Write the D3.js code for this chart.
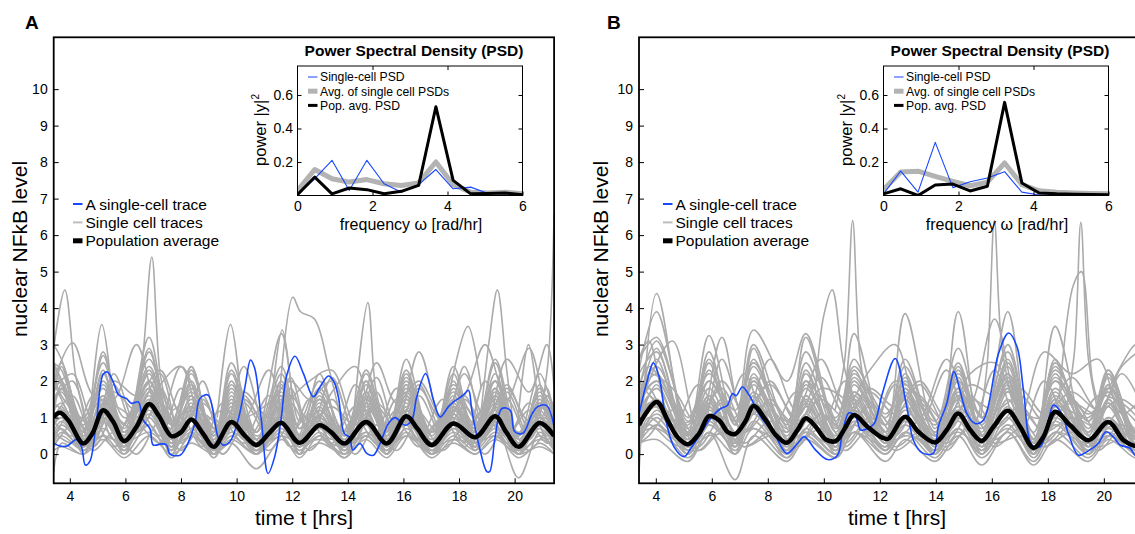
<!DOCTYPE html>
<html>
<head>
<meta charset="utf-8">
<script src="https://cdn.jsdelivr.net/npm/d3@7"></script>
<style>
  body { margin: 0; background: #fff; }
  svg { display: block; font-family: "Liberation Sans", Arial, sans-serif; }
</style>
</head>
<body>
<div id="chart"></div>
<script>
// ---------- data ----------
const yTicks = [0, 1, 2, 3, 4, 5, 6, 7, 8, 9, 10];
const tTicks = [4, 6, 8, 10, 12, 14, 16, 18, 20];
const psdXTicks = [0, 2, 4, 6];
const psdYTicks = [0.2, 0.4, 0.6];

// PSD insets (frequency in rad/hr)
const psdFreq = [0, 0.46, 0.92, 1.38, 1.85, 2.31, 2.77, 3.23, 3.69, 4.15, 4.62, 5.08, 5.54, 6.0];
const psdSingleA = [0.005, 0.1, 0.21, 0.03, 0.21, 0.07, 0.02, 0.065, 0.155, 0.04, 0.05, 0.012, 0.01, 0.005];
const psdAvgA    = [0.03, 0.155, 0.1, 0.08, 0.095, 0.07, 0.06, 0.075, 0.2, 0.065, 0.02, 0.015, 0.02, 0.01];
const psdPopA    = [0.005, 0.11, 0.01, 0.045, 0.035, 0.01, 0.025, 0.06, 0.53, 0.09, 0.01, 0.012, 0.015, 0.005];
const psdSingleB = [0.01, 0.146, 0.02, 0.317, 0.047, 0.082, 0.104, 0.142, 0.02, 0.003, 0.003, 0.002, 0.002, 0.002];
const psdAvgB    = [0.035, 0.14, 0.145, 0.114, 0.084, 0.058, 0.08, 0.194, 0.065, 0.028, 0.02, 0.015, 0.012, 0.01];
const psdPopB    = [0.01, 0.04, 0.0, 0.063, 0.068, 0.027, 0.055, 0.556, 0.075, 0.015, 0.01, 0.008, 0.006, 0.005];

// population average [t, level]
const popA = [[3.42,1.02],[3.64,1.13],[3.94,0.93],[4.48,0.29],[4.8,0.55],[5.2,1.2],[5.55,0.9],[5.95,0.36],[6.4,0.75],
  [6.85,1.37],[7.2,1.05],[7.66,0.49],[8.0,0.6],[8.37,0.95],[8.8,0.55],[9.18,0.2],[9.81,0.88],[10.3,0.5],[10.71,0.25],
  [11.2,0.6],[11.61,0.86],[12.26,0.31],[12.98,0.79],[13.4,0.6],[13.88,0.29],[14.66,0.88],[15.4,0.29],[16.1,1.04],
  [16.5,0.7],[17.02,0.25],[17.8,0.84],[18.58,0.46],[19.3,1.04],[19.7,0.6],[20.14,0.2],[20.9,0.85],[21.42,0.5]];
const popB = [[3.4,0.8],[4.03,1.43],[4.42,0.93],[4.77,0.47],[5.15,0.27],[5.55,0.57],[5.9,1.04],[6.26,0.93],[6.56,0.61],
  [6.83,0.55],[7.2,0.9],[7.49,1.32],[7.93,0.93],[8.29,0.52],[8.68,0.31],[9.06,0.66],[9.36,0.98],[9.71,0.75],[10.07,0.4],
  [10.43,0.36],[10.75,0.7],[11.08,1.07],[11.56,0.75],[12.09,0.45],[12.3,0.42],[12.9,1.02],[13.38,0.61],[13.97,0.32],
  [14.39,0.66],[14.8,1.11],[15.23,0.66],[15.64,0.36],[16.06,0.75],[16.57,1.19],[17.01,0.75],[17.49,0.17],[17.84,0.47],
  [18.26,1.16],[18.8,0.79],[19.45,0.38],[20.16,0.88],[20.7,0.38],[21.12,0.22],[21.42,0.2]];

// highlighted single cell [t, level]
const blueA = [[3.42,0.3],[3.64,0.22],[3.9,0.22],[4.24,0.4],[4.42,0.2],[4.56,-0.3],[4.72,-0.2],[4.96,0.93],[5.2,2.19],
  [5.35,2.25],[5.56,1.98],[5.76,1.62],[6.04,1.52],[6.22,1.39],[6.46,1.43],[6.64,0.93],[6.88,0.7],[7.0,0.25],[7.3,0.28],
  [7.48,0.25],[7.6,0.0],[7.96,-0.03],[8.15,0.15],[8.5,0.84],[8.68,1.52],[8.97,1.62],[9.33,0.47],[9.51,0.25],[9.75,0.33],
  [10.05,0.93],[10.3,1.84],[10.5,2.58],[10.65,2.35],[10.89,0.93],[11.13,-0.53],[11.37,-0.07],[11.61,1.02],[11.79,2.12],
  [12.1,2.68],[12.4,2.21],[12.76,1.57],[13.0,1.84],[13.3,2.14],[13.49,2.0],[13.66,1.57],[13.87,0.57],[14.07,0.45],
  [14.18,0.11],[14.44,0.29],[14.68,0.02],[14.92,-0.03],[15.16,0.29],[15.46,0.84],[15.7,1.0],[16.06,0.79],[16.3,0.93],
  [16.48,1.57],[16.8,2.21],[17.08,1.48],[17.32,1.02],[17.62,1.3],[17.8,1.43],[17.98,1.52],[18.16,1.62],[18.34,1.75],
  [18.46,1.2],[18.73,0.2],[19.0,-0.48],[19.1,-0.48],[19.3,0.47],[19.54,1.25],[19.84,1.2],[20.0,0.62],[20.3,0.57],
  [20.63,1.11],[20.83,1.3],[21.15,1.33],[21.42,0.75]];
const blueB = [[3.4,1.1],[3.7,2.03],[3.91,2.5],[4.12,2.12],[4.36,0.93],[4.65,0.2],[5.01,-0.07],[5.25,0.16],[5.61,0.57],
  [5.96,0.98],[6.32,1.25],[6.55,1.33],[6.74,1.66],[6.87,1.6],[7.09,1.84],[7.33,1.62],[7.75,1.02],[8.22,0.57],[8.68,0.02],
  [9.06,0.29],[9.3,0.48],[9.71,0.11],[10.13,-0.15],[10.49,-0.03],[10.66,0.57],[10.9,1.13],[11.14,1.02],[11.32,0.66],
  [11.56,0.7],[11.8,0.84],[12.09,1.66],[12.55,2.62],[12.96,1.3],[13.2,0.38],[13.5,0.04],[13.91,0.02],[14.09,0.75],
  [14.39,1.39],[14.65,2.26],[14.86,1.75],[15.11,1.11],[15.4,0.84],[15.7,0.93],[16.24,2.76],[16.6,3.32],[16.9,2.94],
  [17.13,1.75],[17.43,0.25],[17.73,0.2],[18.02,0.93],[18.2,1.34],[18.5,1.1],[18.73,0.57],[19.09,-0.03],[19.39,0.06],
  [19.8,0.29],[20.08,0.61],[20.34,0.47],[20.58,0.25],[20.94,0.16],[21.12,-0.03],[21.42,-0.05]];

// single cell traces, panel A: values at the time points of gridA / gridA2
const gridA  = [3.42, 3.7, 4.5, 5.2, 5.95, 6.85, 7.65, 8.37, 9.18, 9.81, 10.71, 11.61, 12.26, 12.98, 13.88, 14.66, 15.4, 16.1, 17.02, 17.8, 18.58, 19.3, 20.14, 20.9, 21.42];
const gridA2 = [3.42, 4.1, 4.85, 5.58, 6.4, 7.25, 8.0, 8.78, 9.5, 10.26, 11.16, 11.94, 12.62, 13.43, 14.27, 15.03, 15.75, 16.56, 17.41, 18.19, 18.94, 19.72, 20.52, 21.16, 21.42];
const cellsA = [
  [3.0, 2.6, 0.9, 1.8, 0.5, 2.2, 0.6, 1.5, 0.3, 1.2, 0.2, 1.5, 0.4, 1.0, 0.2, 1.6, 0.4, 1.7, 0.3, 1.2, 0.5, 1.4, 0.2, 1.0, 0.6],
  [2.4, 2.0, 0.4, 2.7, 0.6, 1.8, 0.3, 1.2, 0.1, 0.9, 0.1, 1.1, 0.2, 0.8, 0.1, 0.9, 0.2, 1.2, 0.1, 0.7, 0.3, 1.0, 0.1, 0.8, 0.3],
  [1.5, 1.8, 0.2, 1.0, 0.2, 2.8, 0.8, 2.4, 0.2, 1.5, 0.3, 1.3, 0.2, 1.2, 0.3, 2.0, 0.5, 2.3, 0.2, 1.4, 0.4, 1.8, 0.3, 1.3, 0.8],
  [2.5, 2.3, 0.6, 2.8, 0.3, 3.2, 0.5, 2.0, 0.1, 2.3, 0.4, 2.2, 0.5, 1.5, 0.4, 2.0, 0.3, 2.6, 0.3, 1.8, 0.6, 2.5, 0.2, 1.7, 0.5],
  [0.8, 1.0, 0.1, 0.7, 0.1, 1.1, 0.2, 0.6, 0.0, 0.5, 0.0, 0.7, 0.1, 0.5, 0.0, 0.6, 0.1, 0.7, 0.0, 0.5, 0.1, 0.6, 0.0, 0.5, 0.1],
  [-0.5, 0.3, 0.0, 1.2, 0.1, 1.4, 0.0, 0.9, -0.1, 0.8, 0.0, 0.9, 0.1, 0.6, -0.1, 0.8, 0.0, 0.9, 0.0, 0.7, 0.2, 0.8, -0.65, 0.6, 0.1],
  [1.9, 2.5, 0.7, 2.0, 0.8, 2.6, 1.2, 1.6, 0.5, 2.5, 0.6, 3.3, 0.9, 2.0, 0.5, 2.2, 0.6, 1.9, 0.5, 1.6, 0.7, 2.6, 0.5, 2.2, 1.0],
  [1.2, 1.4, 0.3, 1.6, 0.4, 2.0, 0.4, 1.1, 0.2, 2.0, 0.3, 1.8, 0.5, 0.9, 0.3, 1.5, 0.5, 1.5, 0.2, 1.1, 0.4, 1.2, 0.2, 1.5, 0.4],
  [0.3, 0.6, 0.2, 0.9, 0.2, 1.0, 0.1, 0.7, 0.1, 0.6, 0.2, 0.5, 0.3, 0.4, 0.2, 0.6, 0.2, 0.5, 0.2, 0.4, 0.3, 0.5, 0.1, 0.4, 0.2],
  [2.2, 1.6, 1.0, 2.5, 1.0, 1.3, 0.7, 1.9, 0.6, 1.2, 0.4, 1.7, 0.5, 1.0, 0.4, 1.3, 0.5, 2.1, 0.6, 1.9, 1.0, 2.0, 0.4, 1.3, 1.2],
  [0.5, 0.8, 0.3, 0.5, 0.3, 0.6, 0.2, 0.5, 0.2, 0.8, 0.1, 0.6, 0.2, 0.7, 0.2, 0.5, 0.1, 0.9, 0.1, 0.6, 0.2, 0.7, 0.1, 0.9, 0.3],
  [1.7, 2.0, 0.5, 1.4, 0.2, 2.9, 0.3, 1.4, 0.1, 1.6, 0.0, 1.4, 0.3, 1.7, 0.1, 1.2, 0.0, 1.3, 0.0, 2.0, 0.2, 1.8, 0.0, 1.1, 0.2],
  [0.1, 0.2, 0.0, 0.4, -0.1, 0.5, 0.0, 0.3, 0.0, 0.3, -0.4, 0.4, 0.0, 0.3, 0.0, 0.4, -0.1, 0.5, 0.0, 0.3, 0.0, 0.4, 0.0, 0.2, 0.0],
  [1.0, 1.1, 0.4, 2.2, 0.6, 1.6, 0.5, 1.3, 0.3, 1.0, 0.3, 2.0, 0.3, 1.4, 0.2, 1.9, 0.3, 1.6, 0.3, 2.4, 0.5, 1.5, 0.3, 1.2, 0.5],
  [0.6, 0.9, 0.2, 1.1, 0.3, 1.5, 0.3, 1.0, 0.2, 1.4, 0.1, 1.0, 0.2, 1.1, 0.1, 1.0, 0.2, 1.4, 0.1, 0.9, 0.2, 1.3, 0.1, 0.7, 0.3],
  [2.0, 1.5, 0.5, 1.2, 0.5, 2.3, 0.6, 1.8, 0.4, 1.8, 0.5, 1.0, 0.4, 1.5, 0.5, 1.4, 0.4, 1.2, 0.4, 1.5, 0.5, 2.2, 0.3, 1.8, 1.0],
  [1.4, 1.7, 0.6, 1.9, 0.7, 2.4, 0.9, 2.2, 0.5, 1.9, 0.6, 2.4, 0.7, 1.8, 0.6, 2.3, 0.7, 2.0, 0.6, 1.7, 0.8, 2.0, 0.5, 1.6, 0.7],
  [0.9, 1.3, 0.0, 1.3, 0.0, 1.7, 0.1, 1.6, 0.0, 1.3, 0.0, 1.6, 0.0, 1.3, 0.0, 1.2, 0.0, 1.9, 0.0, 1.3, 0.1, 1.6, 0.0, 1.4, 0.2],
  [1.6, 2.4, 0.3, 2.3, 0.2, 2.0, 0.2, 2.3, 0.3, 2.2, 0.2, 1.6, 0.3, 2.2, 0.2, 1.7, 0.2, 2.2, 0.2, 2.2, 0.3, 2.0, 0.2, 1.9, 0.4],
  [0.2, 0.5, 0.1, 0.5, 0.0, 0.8, -0.1, 0.5, 0.0, 0.4, 0.0, 0.5, -0.1, 0.5, -0.1, 0.5, 0.0, 0.6, -0.1, 0.4, 0.0, 0.5, -0.1, 0.3, 0.0],
  [1.1, 1.9, 0.4, 1.5, 0.4, 1.8, 0.5, 2.4, 0.3, 1.7, 0.3, 1.3, 0.4, 1.6, 0.2, 1.7, 0.3, 1.8, 0.3, 1.3, 0.4, 1.7, 0.3, 1.4, 0.6],
  [0.7, 1.2, 0.2, 1.3, 0.1, 1.2, 0.2, 1.2, 0.1, 1.1, 0.1, 1.2, 0.2, 0.9, 0.1, 1.1, 0.1, 1.1, 0.1, 1.0, 0.2, 0.9, 0.1, 1.0, 0.2],
  [2.3, 1.9, 0.8, 1.6, 0.6, 2.0, 0.8, 1.7, 0.7, 1.4, 0.6, 1.9, 0.7, 1.2, 0.6, 1.5, 0.8, 1.5, 0.6, 1.3, 0.7, 1.6, 0.6, 1.0, 0.9],
  [0.4, 0.7, 0.1, 1.0, 0.2, 1.3, 0.1, 0.9, 0.0, 1.1, 0.1, 0.8, 0.0, 0.9, 0.1, 1.1, 0.0, 1.2, 0.0, 1.1, 0.1, 1.1, 0.0, 0.9, 0.1]
];
const cellsA2 = [
  [2.0, 3.05, 1.6, 1.5, 3.0, 1.0, 2.4, 1.2, 0.5, 1.6, 0.6, 1.5, 2.0, 2.3, 0.8, 2.5, 1.4, 2.0, 1.0, 1.6, 3.0, 1.5, 2.9, 1.2, 1.0],
  [1.4, 1.0, 0.6, 2.2, 0.8, 1.9, 2.4, 0.9, 1.2, 1.0, 1.4, 2.0, 1.5, 2.0, 0.6, 1.4, 0.9, 2.8, 0.8, 2.2, 1.0, 1.8, 0.9, 1.6, 1.3],
  [0.4, 1.2, 0.2, 1.0, 0.6, 1.4, 0.3, 1.1, 0.7, 0.9, 2.3, 0.6, 1.1, 0.4, 1.3, 0.5, 1.2, 0.4, 1.0, 0.6, 1.2, 0.5, 1.4, 0.4, 0.6],
  [0.9, 0.5, 1.6, 0.4, 1.3, 0.5, 1.8, 0.3, 1.4, 0.4, 1.6, 0.5, 1.5, 0.3, 1.9, 0.4, 1.5, 0.4, 1.5, 0.3, 2.0, 0.5, 1.2, 0.5, 0.6],
  [2.5, 1.4, 0.3, 1.7, 1.2, 2.2, 0.5, 1.5, 0.5, 2.4, 0.4, 2.1, 0.6, 1.7, 2.4, 0.6, 1.8, 1.2, 0.5, 2.4, 0.6, 2.6, 1.7, 3.0, 1.8],
  [0.2, 0.8, 0.1, 0.6, 0.0, 0.9, 0.1, 0.8, 0.0, 0.7, 0.1, 0.8, 0.1, 0.7, 0.0, 0.8, 0.1, 0.9, 0.1, 0.7, 0.0, 0.8, 0.1, 0.6, 0.2],
  [1.8, 2.2, 0.9, 2.0, 1.6, 2.3, 1.1, 1.4, 0.8, 1.7, 1.0, 1.6, 0.9, 1.3, 0.8, 2.1, 0.7, 1.8, 0.9, 1.5, 0.8, 1.9, 0.7, 1.6, 1.2],
  [1.0, 1.6, 0.4, 1.3, 1.0, 1.8, 0.6, 1.6, 0.4, 1.4, 0.5, 1.8, 0.5, 1.5, 0.4, 1.7, 0.4, 1.6, 0.5, 1.3, 0.5, 1.5, 0.4, 1.2, 0.6],
  [0.6, 0.3, 0.9, 0.2, 0.8, 0.3, 1.0, 0.2, 0.9, 0.3, 1.1, 0.2, 0.9, 0.2, 1.0, 0.3, 0.9, 0.2, 1.0, 0.2, 1.1, 0.3, 0.8, 0.3, 0.4],
  [1.5, 2.0, 0.5, 1.9, 0.6, 1.4, 0.6, 2.0, 0.5, 1.5, 0.7, 1.4, 0.6, 2.1, 0.6, 1.3, 0.7, 1.9, 0.6, 1.6, 0.5, 1.7, 0.5, 1.8, 0.9]
];
// tall excursions of individual cells, panel A [t, level]
const spikesA = [
  [[3.42,2.9],[3.82,4.5],[4.2,2.2],[4.6,0.8]],
  [[4.7,0.8],[5.15,3.55],[5.6,1.0]],
  [[6.2,0.8],[6.6,2.5],[6.95,5.4],[7.25,2.2],[7.7,0.7]],
  [[9.3,1.0],[9.78,3.55],[10.2,1.2]],
  [[11.2,1.0],[11.64,3.4],[12.0,1.5]],
  [[11.5,1.2],[12.02,4.3],[12.3,3.9],[12.8,3.7],[13.3,2.4],[13.8,0.8]],
  [[14.2,1.0],[14.72,4.15],[15.0,1.8],[15.4,0.6]],
  [[17.6,1.5],[18.32,3.5],[18.8,1.8]],
  [[18.8,1.2],[19.1,3.2],[19.38,4.5],[19.7,2.4],[20.0,0.5]],
  [[20.1,0.8],[20.5,3.0],[20.9,1.0]],
  [[20.9,1.0],[21.2,2.5],[21.42,6.6]]
];

// single cell traces, panel B
const gridB  = [3.4, 4.03, 5.15, 5.9, 6.83, 7.49, 8.68, 9.36, 10.43, 11.08, 12.2, 12.9, 13.97, 14.8, 15.64, 16.57, 17.49, 18.26, 19.45, 20.16, 21.12, 21.42];
const gridB2 = [3.4, 3.75, 4.6, 5.52, 6.36, 7.16, 8.08, 9.02, 9.9, 10.76, 11.64, 12.55, 13.43, 14.38, 15.22, 16.1, 17.03, 17.87, 18.85, 19.8, 20.64, 21.42];
const cellsB = [
  [-0.5, 4.4, 0.3, 2.5, 0.2, 2.2, 0.1, 2.0, 0.2, 1.6, 0.3, 1.8, 0.2, 2.3, 0.4, 2.4, 0.1, 1.7, 0.3, 1.5, 0.2, 0.4],
  [2.3, 3.9, 0.6, 3.25, 0.8, 3.4, 2.0, 3.3, 0.8, 2.6, 0.6, 3.85, 0.7, 2.5, 0.6, 3.0, 0.3, 2.4, 0.7, 2.3, 0.5, 0.8],
  [1.2, 2.6, 0.2, 1.5, 0.3, 2.9, 0.2, 1.4, 0.1, 1.7, 0.4, 1.5, 0.2, 1.8, 0.3, 2.0, 0.1, 3.5, 0.2, 1.9, 0.3, 0.6],
  [0.8, 1.9, 0.1, 1.2, 0.5, 1.6, 0.0, 1.0, 0.2, 1.2, 0.1, 1.0, 0.0, 3.9, 0.2, 3.9, 0.0, 1.4, 0.1, 1.4, 0.0, 0.2],
  [0.4, 1.0, 0.0, 0.8, 0.2, 1.2, -0.1, 0.7, 0.0, 0.9, 0.1, 0.8, 0.0, 0.9, 0.0, 1.0, -0.1, 0.8, 0.0, 0.7, 0.1, 0.1],
  [1.6, 2.2, 0.5, 2.0, 0.9, 2.4, 0.6, 3.2, 0.7, 1.7, 0.8, 2.4, 0.6, 2.0, 0.8, 2.5, 0.4, 2.1, 0.9, 2.3, 0.6, 0.9],
  [0.2, 1.2, 0.1, 1.0, 0.1, 0.9, 0.0, 0.6, 0.0, 0.8, 0.0, 0.6, 0.1, 0.7, 0.0, 0.8, 0.0, 0.9, 0.0, 0.6, 0.0, 0.1],
  [1.0, 1.5, 0.4, 1.6, 0.4, 1.9, 0.3, 1.3, 0.3, 1.4, 0.3, 1.2, 0.4, 1.5, 0.3, 2.0, 0.3, 1.8, 0.4, 1.0, 0.3, 0.4],
  [2.0, 1.4, 0.8, 2.8, 0.5, 1.4, 0.6, 1.8, 0.4, 1.9, 0.6, 1.6, 0.5, 1.3, 0.5, 1.8, 0.2, 1.3, 1.0, 1.7, 0.4, 0.6],
  [0.6, 0.7, 0.2, 0.5, 0.6, 0.7, 0.3, 0.6, 0.2, 0.6, 0.2, 0.5, 0.3, 0.6, 0.2, 0.7, 0.1, 0.6, 0.3, 0.5, 0.2, 0.3],
  [1.3, 2.9, 0.3, 1.3, 0.2, 1.1, 0.1, 2.3, 0.3, 1.1, 0.2, 2.2, 0.3, 1.2, 0.1, 1.5, 0.0, 2.6, 0.2, 2.2, 0.2, 0.3],
  [0.3, 0.4, -0.2, 0.6, -0.7, 0.5, -0.2, 0.4, -0.1, 0.6, -0.2, 0.4, -0.2, 0.5, -0.3, 0.6, -0.3, 0.4, -0.2, 0.4, -0.1, 0.0],
  [1.8, 3.1, 1.0, 2.2, 1.2, 2.5, 0.9, 2.0, 1.0, 2.4, 1.1, 1.9, 0.8, 2.2, 1.0, 2.8, 0.4, 2.0, 1.1, 1.8, 3.0, 3.0],
  [0.9, 1.3, 0.2, 1.1, 0.3, 1.4, 0.2, 0.9, 0.1, 1.0, 0.2, 1.3, 0.1, 1.2, 0.2, 1.3, 0.1, 1.1, 0.2, 1.0, 0.1, 0.3],
  [1.5, 2.0, 0.6, 1.6, 0.3, 2.0, 0.3, 1.6, 0.2, 3.3, 0.5, 1.7, 0.3, 1.6, 0.3, 1.8, 0.2, 1.5, 0.3, 2.2, 0.3, 0.5],
  [1.4, 2.0, 0.5, 1.8, 0.6, 2.1, 0.5, 1.9, 0.5, 2.0, 0.6, 1.8, 0.5, 2.1, 0.5, 2.2, 0.4, 2.0, 0.6, 1.7, 0.4, 0.7],
  [0.7, 1.5, 0.0, 1.3, 0.0, 1.6, 0.0, 1.5, 0.0, 1.3, 0.1, 1.5, 0.0, 1.6, 0.0, 1.7, 0.0, 1.5, 0.0, 1.3, 0.0, 0.1],
  [2.2, 2.8, 0.4, 2.3, 0.5, 2.6, 0.4, 2.2, 0.4, 2.3, 0.4, 2.1, 0.4, 2.4, 0.5, 2.6, 0.2, 2.2, 0.5, 2.1, 0.4, 0.6],
  [0.3, 0.8, -0.1, 0.6, 0.0, 0.7, -0.1, 0.5, -0.1, 0.6, 0.0, 0.6, -0.1, 0.7, -0.1, 0.6, -0.2, 0.6, -0.1, 0.5, 0.0, 0.0],
  [1.1, 1.8, 0.3, 1.4, 0.4, 1.7, 0.3, 1.6, 0.3, 1.5, 0.3, 1.6, 0.3, 1.7, 0.4, 1.9, 0.2, 1.6, 0.4, 1.4, 0.3, 0.5],
  [1.7, 2.4, 0.7, 2.6, 0.8, 2.0, 0.7, 2.5, 0.6, 2.1, 0.8, 2.6, 0.6, 1.8, 0.7, 2.1, 0.4, 2.5, 0.6, 1.9, 0.6, 1.0],
  [0.5, 1.1, 0.2, 0.9, 0.2, 1.1, 0.1, 1.1, 0.1, 1.2, 0.1, 0.9, 0.1, 1.0, 0.1, 1.2, 0.0, 1.0, 0.1, 0.9, 0.1, 0.2],
  [2.6, 3.2, 0.9, 2.0, 1.0, 3.0, 0.8, 2.8, 0.9, 2.2, 1.0, 2.0, 0.9, 2.9, 1.0, 2.2, 0.6, 2.3, 0.9, 1.8, 0.7, 1.2]
];
const cellsB2 = [
  [1.0, 2.0, 3.1, 0.6, 3.2, 1.0, 1.4, 0.8, 1.8, 1.5, 0.6, 2.0, 1.6, 0.9, 2.2, 2.5, 1.2, 1.0, 2.1, 1.2, 2.4, 2.9],
  [0.5, 1.4, 0.9, 0.5, 1.5, 0.6, 1.2, 0.5, 1.1, 0.6, 1.3, 0.5, 1.4, 0.6, 1.3, 0.7, 1.2, 0.6, 1.0, 0.7, 0.8, 0.5],
  [1.8, 2.4, 1.5, 0.4, 2.6, 1.0, 2.6, 1.2, 2.6, 1.3, 2.3, 3.0, 1.0, 2.6, 1.4, 3.7, 1.1, 2.8, 2.2, 2.6, 1.1, 1.6],
  [0.1, 0.8, 0.3, 0.1, 0.7, 0.2, 0.6, 0.2, 0.9, 0.1, 0.7, 0.2, 0.6, 0.1, 0.8, 0.2, 0.7, 0.2, 0.8, 0.1, 0.7, 0.2],
  [1.2, 1.8, 0.7, 1.9, 1.0, 2.2, 0.6, 1.7, 0.8, 2.0, 0.5, 1.9, 0.8, 2.3, 0.6, 2.3, 0.6, 2.0, 0.7, 1.6, 1.4, 0.8],
  [2.6, 3.1, 0.9, 1.0, 1.8, 0.8, 2.0, 0.9, 1.5, 1.0, 1.7, 1.1, 1.9, 0.8, 1.5, 1.2, 1.6, 0.9, 1.4, 1.1, 2.2, 1.2],
  [0.3, 0.5, 1.2, 0.1, 0.6, 0.2, 0.5, 0.3, 0.7, 0.2, 0.9, 0.1, 0.5, 0.2, 0.7, 0.3, 0.5, 0.2, 0.6, 0.2, 0.4, 0.1],
  [0.9, 1.6, 0.8, 0.5, 1.4, 0.6, 1.5, 0.6, 1.6, 0.5, 1.4, 0.7, 1.5, 0.6, 1.6, 0.8, 1.3, 0.6, 1.5, 0.6, 1.2, 0.6],
  [1.5, 2.2, 1.8, 0.8, 2.0, 1.2, 1.9, 1.0, 2.1, 1.1, 1.8, 1.3, 2.0, 1.0, 1.9, 1.6, 1.8, 1.1, 1.7, 1.2, 1.5, 1.0],
  [0.4, 1.0, 0.5, 0.2, 1.0, 0.3, 0.9, 0.2, 1.1, 0.3, 1.0, 0.4, 0.9, 0.3, 1.1, 0.4, 0.9, 0.3, 1.0, 0.3, 0.8, 0.3]
];
const spikesB = [
  [[9.7,1.8],[10.0,3.8],[10.3,4.5],[10.7,2.5],[11.2,1.0]],
  [[10.4,1.2],[10.75,2.6],[11.03,6.4],[11.3,2.6],[11.7,1.0]],
  [[15.6,1.0],[15.85,2.6],[16.09,6.4],[16.35,3.0],[16.8,1.2]],
  [[18.4,1.5],[18.9,4.6],[19.2,5.0],[19.6,2.0],[20.0,0.9]],
  [[18.6,1.0],[18.95,2.8],[19.18,6.35],[19.45,2.6],[19.9,0.8]]
];

// ---------- drawing ----------
const W = 1135, H = 534;
const yDomain = [-0.8, 11.42];
const blue = "#1747ff", gray = "#ababab";

const svg = d3.select("#chart").append("svg").attr("width", W).attr("height", H);

function styleAxis(a, size) {
  a.attr("font-family", null).attr("font-size", size);
  a.select(".domain").remove();
  a.selectAll("line").attr("stroke", "#000");
  a.selectAll("text").attr("fill", "#000");
}

function drawPanel(p) {
  const x = d3.scaleLinear().domain(p.tDomain).range([p.left, p.right]);
  const y = d3.scaleLinear().domain(yDomain).range([483.3, 37.3]);
  const g = svg.append("g");

  g.append("clipPath").attr("id", "clip" + p.name).append("rect")
    .attr("x", p.left).attr("y", 37.3).attr("width", p.right - p.left).attr("height", 446);

  const line = d3.line().x(d => x(d[0])).y(d => y(d[1])).curve(d3.curveCatmullRom.alpha(0.5));
  const traces = [
    ...p.cells.map(v => p.grid.map((t, i) => [t, v[i]])),
    ...p.cells2.map(v => p.grid2.map((t, i) => [t, v[i]])),
    ...p.spikes
  ];
  const plot = g.append("g").attr("clip-path", `url(#clip${p.name})`);
  plot.selectAll("path.cell").data(traces).join("path")
    .attr("class", "cell").attr("d", line)
    .attr("fill", "none").attr("stroke", gray).attr("stroke-width", 1.6);
  plot.append("path").attr("d", line(p.blue))
    .attr("fill", "none").attr("stroke", blue).attr("stroke-width", 1.6);
  plot.append("path").attr("d", line(p.pop))
    .attr("fill", "none").attr("stroke", "#000").attr("stroke-width", 4.5).attr("stroke-linejoin", "round");

  // frame + axes
  g.append("rect").attr("x", p.left).attr("y", 37.3).attr("width", p.right - p.left).attr("height", 446)
    .attr("fill", "none").attr("stroke", "#000").attr("stroke-width", 1.8);
  g.append("g").attr("transform", `translate(${p.left},0)`)
    .call(d3.axisLeft(y).tickValues(yTicks).tickSize(-5).tickPadding(6))
    .call(a => styleAxis(a, 14));
  g.append("g").attr("transform", "translate(0,483.3)")
    .call(d3.axisBottom(x).tickValues(tTicks).tickSize(-5).tickPadding(8))
    .call(a => styleAxis(a, 14));

  g.append("text").attr("x", p.xLabelX).attr("y", 525).attr("text-anchor", "middle")
    .attr("font-size", 21).text("time t [hrs]");
  g.append("text").attr("transform", `translate(${p.yLabelX},249) rotate(-90)`)
    .attr("text-anchor", "middle").attr("font-size", 21).text("nuclear NFkB level");
  g.append("text").attr("x", p.letterX).attr("y", 28.5).attr("font-size", 19)
    .attr("font-weight", "bold").text(p.name);

  // legend
  const legend = [
    { label: "A single-cell trace", color: blue, w: 2 },
    { label: "Single cell traces", color: "#bdbdbd", w: 2 },
    { label: "Population average", color: "#000", w: 5 }
  ];
  const lg = g.append("g").selectAll("g").data(legend).join("g")
    .attr("transform", (d, i) => `translate(0,${204 + i * 18.4})`);
  lg.append("line").attr("x1", p.legX).attr("x2", p.legX + 9.5)
    .attr("stroke", d => d.color).attr("stroke-width", d => d.w);
  lg.append("text").attr("x", p.legX + 12.5).attr("y", 5.5).attr("font-size", 15.5).text(d => d.label);

  drawInset(g, p);
}

function drawInset(g, p) {
  const il = p.insetLeft, ir = il + 225, top = 66, bottom = 195.5;
  const x = d3.scaleLinear().domain([0, 6]).range([il, ir]);
  const y = d3.scaleLinear().domain([0, 0.773]).range([bottom, top]);
  const ig = g.append("g");
  ig.append("rect").attr("x", il).attr("y", top).attr("width", ir - il).attr("height", bottom - top)
    .attr("fill", "#fff");

  ig.append("clipPath").attr("id", "iclip" + p.name).append("rect")
    .attr("x", il).attr("y", top).attr("width", ir - il).attr("height", bottom - top);
  const line = d3.line().x((d, i) => x(psdFreq[i])).y(d => y(d));
  const lines = ig.append("g").attr("clip-path", `url(#iclip${p.name})`)
    .attr("fill", "none").attr("stroke-linejoin", "round");
  lines.append("path").attr("d", line(p.psdAvg)).attr("stroke", "#b3b3b3").attr("stroke-width", 5);
  lines.append("path").attr("d", line(p.psdSingle)).attr("stroke", blue).attr("stroke-width", 1.1);
  lines.append("path").attr("d", line(p.psdPop)).attr("stroke", "#000").attr("stroke-width", 3);

  ig.append("rect").attr("x", il).attr("y", top).attr("width", ir - il).attr("height", bottom - top)
    .attr("fill", "none").attr("stroke", "#000").attr("stroke-width", 1);
  ig.append("g").attr("transform", `translate(${il},0)`)
    .call(d3.axisLeft(y).tickValues(psdYTicks).tickSize(-4).tickPadding(4.5))
    .call(a => styleAxis(a, 14));
  ig.append("g").attr("transform", `translate(${ir},0)`)
    .call(d3.axisRight(y).tickValues(psdYTicks).tickSize(-4).tickFormat(""))
    .call(a => styleAxis(a, 14));
  ig.append("g").attr("transform", `translate(0,${bottom})`)
    .call(d3.axisBottom(x).tickValues(psdXTicks).tickSize(-4).tickPadding(6).tickFormat(d3.format("d")))
    .call(a => styleAxis(a, 14));
  ig.append("g").attr("transform", `translate(0,${top})`)
    .call(d3.axisTop(x).tickValues([2, 4]).tickSize(-4).tickFormat(""))
    .call(a => styleAxis(a, 14));

  ig.append("text").attr("x", (il + ir) / 2 + 4).attr("y", 56).attr("text-anchor", "middle")
    .attr("font-size", 15.5).attr("font-weight", "bold").text("Power Spectral Density (PSD)");
  ig.append("text").attr("x", (il + ir) / 2 + 1).attr("y", 230).attr("text-anchor", "middle")
    .attr("font-size", 16).text("frequency \u03c9 [rad/hr]");
  const pl = ig.append("text").attr("transform", `translate(${il - 32},130) rotate(-90)`)
    .attr("text-anchor", "middle").attr("font-size", 16.5);
  pl.append("tspan").text("power |y|");
  pl.append("tspan").attr("dy", -7).attr("font-size", 10).text("2");

  const legend = [
    { label: "Single-cell PSD", color: blue, w: 1 },
    { label: "Avg. of single cell PSDs", color: "#b3b3b3", w: 5 },
    { label: "Pop. avg. PSD", color: "#000", w: 3 }
  ];
  const lg = ig.append("g").selectAll("g").data(legend).join("g")
    .attr("transform", (d, i) => `translate(0,${77 + i * 14.2})`);
  lg.append("line").attr("x1", il + 10.5).attr("x2", il + 20)
    .attr("stroke", d => d.color).attr("stroke-width", d => d.w);
  lg.append("text").attr("x", il + 22.5).attr("y", 4.3).attr("font-size", 12.2).text(d => d.label);
}

drawPanel({
  name: "A", tDomain: [3.42, 21.42], left: 53.7, right: 554.1,
  grid: gridA, grid2: gridA2, cells: cellsA, cells2: cellsA2, spikes: spikesA,
  pop: popA, blue: blueA, psdSingle: psdSingleA, psdAvg: psdAvgA, psdPop: psdPopA,
  insetLeft: 297.5, xLabelX: 304, yLabelX: 27, letterX: 25, legX: 73
});
drawPanel({
  name: "B", tDomain: [3.4, 21.42], left: 639, right: 1143.6,
  grid: gridB, grid2: gridB2, cells: cellsB, cells2: cellsB2, spikes: spikesB,
  pop: popB, blue: blueB, psdSingle: psdSingleB, psdAvg: psdAvgB, psdPop: psdPopB,
  insetLeft: 883.5, xLabelX: 897, yLabelX: 608, letterX: 607, legX: 663
});
</script>
</body>
</html>
